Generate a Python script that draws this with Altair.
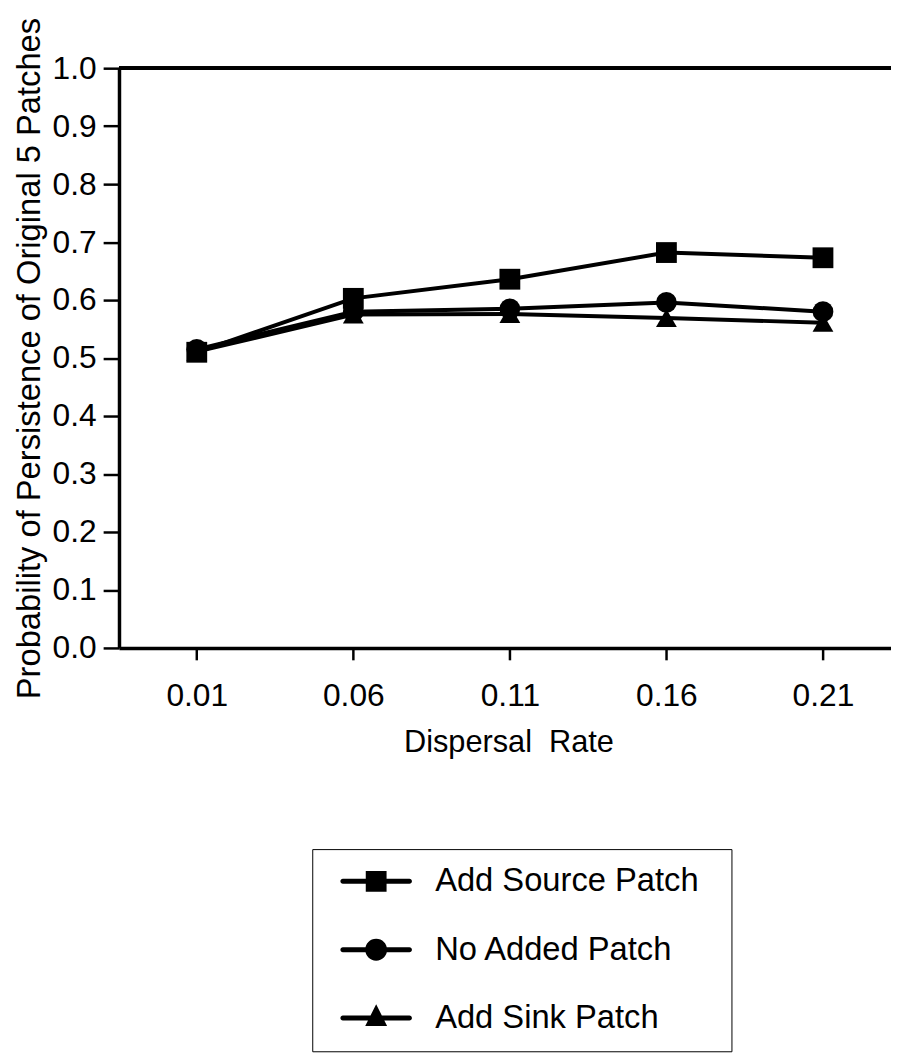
import altair as alt
import pandas as pd

# ---- data ----
dispersal = [0.01, 0.06, 0.11, 0.16, 0.21]
add_source = [0.510, 0.603, 0.636, 0.682, 0.673]
no_added = [0.515, 0.580, 0.585, 0.596, 0.580]
add_sink = [0.511, 0.575, 0.576, 0.569, 0.561]
series_names = ["Add Source Patch", "No Added Patch", "Add Sink Patch"]
x_ticks = [0.01, 0.06, 0.11, 0.16, 0.21]
y_ticks = [round(i * 0.05, 2) for i in range(21)]

rows = []
for name, vals in zip(series_names, [add_source, no_added, add_sink]):
    for d, v in zip(dispersal, vals):
        rows.append({"rate": d, "prob": v, "series": name})
df = pd.DataFrame(rows)

FONT = "Liberation Sans"

x_enc = alt.X(
    "rate:Q",
    scale=alt.Scale(domain=[-0.01484, 0.23173], nice=False, zero=False),
    axis=alt.Axis(
        values=x_ticks, format=".2f", title="Dispersal\u00a0 Rate",
        labelFontSize=32, labelFont=FONT, labelColor="black",
        labelBaseline="alphabetic", labelPadding=46, labelFlush=False,
        tickSize=12, tickWidth=2.5, tickColor="black",
        domainColor="black", domainWidth=3.5, grid=False,
        titleFontSize=31, titleFont=FONT, titleColor="black", titleFontWeight="normal",
        titleX=393, titleY=105, titleBaseline="alphabetic", titleAlign="center",
    ),
)
major_test = "abs(datum.value*10 - round(datum.value*10)) < 0.01"
y_enc = alt.Y(
    "prob:Q",
    scale=alt.Scale(domain=[0, 1], nice=False),
    axis=alt.Axis(
        values=y_ticks,
        labelExpr=f"{major_test} ? format(datum.value, '.1f') : ''",
        labelFontSize=32, labelFont=FONT, labelColor="black", labelPadding=7,
        tickSize={"condition": {"test": major_test, "value": 16}, "value": 7},
        tickWidth=2.5, tickColor="black",
        domainColor="black", domainWidth=3.5, grid=False,
        title="Probability of Persistence of Original 5 Patches",
        titleFontSize=33, titleFont=FONT, titleColor="black", titleFontWeight="normal",
        titleX=-73, titleY=292.5, titleAngle=270, titleBaseline="bottom", titleAlign="center",
    ),
)

base = alt.Chart(df)

lines = base.mark_line(color="black", strokeWidth=4).encode(
    x=x_enc, y=y_enc, detail="series:N"
)
points = base.mark_point(filled=True, color="black", opacity=1, size=441).encode(
    x="rate:Q", y="prob:Q",
    shape=alt.Shape("series:N",
                    scale=alt.Scale(domain=series_names,
                                    range=["square", "circle", "triangle-up"]),
                    legend=None),
)
top_rule = alt.Chart(df).mark_rule(color="black", strokeWidth=3).encode(y=alt.datum(1.0))

# legend glyphs: a short line with the marker in the middle (filled shapes only)
seg = "M-2.1,-0.156H2.1A0.156,0.156,0,0,1,2.1,0.156H-2.1A0.156,0.156,0,0,1,-2.1,-0.156Z"
legend_paths = [
    seg + "M-0.656,-0.656H0.656V0.656H-0.656Z",
    seg + "M-0.69,0A0.69,0.69,0,0,1,0.69,0A0.69,0.69,0,0,1,-0.69,0Z",
    seg + "M0,-0.875L0.69,0.5L-0.69,0.5Z",
]
legend_layer = base.transform_filter("false").mark_point(
    filled=True, color="black", opacity=1
).encode(
    x="rate:Q", y="prob:Q",
    shape=alt.Shape(
        "series:N",
        scale=alt.Scale(domain=series_names, range=legend_paths),
        legend=alt.Legend(
            title=None, orient="none", legendX=195, legendY=788,
            labelFontSize=33, labelFont=FONT, labelColor="black",
            labelExpr="datum.label + '\u2002\u200b'", labelLimit=600,
            symbolSize=1024, symbolFillColor="black", symbolOpacity=1,
            symbolStrokeWidth=0, symbolOffset=32,
            labelOffset=43, rowPadding=35, padding=16,
            strokeColor="black",
        ),
    ),
)

chart = (
    alt.layer(top_rule, lines, points, legend_layer)
    .resolve_scale(shape="independent")
    .properties(
        width=779, height=585,
        autosize=alt.AutoSizeParams(type="none"),
        padding={"left": 112, "top": 56, "right": 0, "bottom": 404},
    )
    .configure_view(stroke=None)
    .configure_legend(strokeWidth=2.5)
    .configure(background="white")
)

chart.save("out.html", embed_options={"renderer": "svg", "actions": False})
